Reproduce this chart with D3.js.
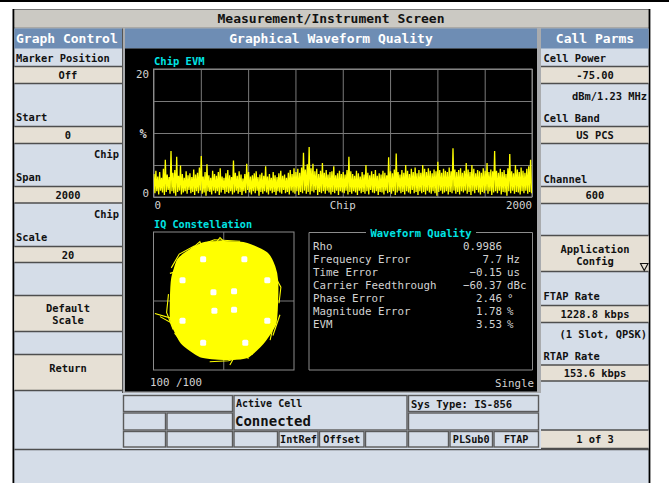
<!DOCTYPE html>
<html><head><meta charset="utf-8">
<script src="https://cdn.jsdelivr.net/npm/d3@7"></script>
<style>body{margin:0;background:#fff}svg{display:block}</style>
</head><body>
<svg id="c" width="669" height="483"></svg>
<script>
// ---------- DATA ----------
// Chip EVM (%) : per 10-chip bin, upper and lower excursion of the trace
const evmHi = [
3.6,4.1,3.2,3.9,3.0,4.4,5.8,3.5,3.1,7.2,3.8,4.2,6.3,3.3,4.9,3.6,3.0,4.0,3.4,3.7,
3.1,4.3,3.5,3.8,4.6,6.4,3.2,3.9,5.1,3.4,3.0,4.1,3.6,3.3,3.9,4.5,3.2,3.0,3.7,4.2,
3.4,3.1,5.7,3.8,3.3,4.0,3.5,2.9,3.6,5.2,3.9,3.2,3.4,3.7,4.0,3.1,3.5,3.8,3.3,4.8,
3.2,3.6,3.0,3.9,3.4,3.1,3.7,4.1,3.3,3.5,3.0,3.8,4.2,3.6,4.5,3.9,4.4,3.8,4.6,6.9,
4.3,5.1,7.8,4.5,5.2,4.0,4.4,3.6,4.1,5.3,3.8,4.2,3.5,3.9,4.0,4.8,3.4,3.7,4.1,3.6,
3.9,3.5,4.2,6.3,4.0,3.6,3.3,4.1,3.7,3.2,3.9,3.5,5.0,3.8,3.4,4.0,3.6,4.2,3.3,3.7,
3.5,4.1,3.8,3.4,6.2,4.0,3.7,4.3,6.8,3.9,3.5,4.2,3.8,5.0,4.1,3.6,4.4,3.9,4.6,3.7,
4.2,3.8,5.0,4.4,3.9,4.5,4.1,3.7,4.3,4.0,5.5,4.2,3.8,4.4,4.1,3.9,4.6,4.0,7.6,4.3,
3.9,4.2,4.5,3.8,4.1,5.3,4.3,3.9,5.0,4.4,3.7,4.2,4.0,3.8,4.5,4.1,5.3,3.9,4.3,4.0,
7.2,4.1,3.8,4.4,3.9,4.2,3.6,4.5,6.7,4.0,3.7,5.0,4.3,3.9,4.6,4.1,3.8,4.4,4.8,5.8];
const evmLo = [
0.6,0.9,0.4,1.0,0.7,0.3,0.8,1.1,0.5,0.9,0.6,0.2,0.8,1.0,0.4,0.7,0.9,0.5,1.1,0.6,
0.8,0.3,0.9,0.6,1.0,0.5,0.7,0.2,0.9,0.8,0.4,1.0,0.6,0.9,0.3,0.7,1.1,0.5,0.8,0.6,
0.9,0.4,0.7,1.0,0.5,0.8,0.3,0.9,0.6,1.1,0.7,0.4,0.9,0.6,1.0,0.2,0.8,0.5,0.9,0.7,
0.4,1.0,0.6,0.8,0.3,0.9,0.7,0.5,1.1,0.6,0.8,0.4,1.0,0.7,0.5,0.9,0.3,0.8,0.6,1.0,
0.5,0.8,0.4,0.9,0.7,1.1,0.3,0.8,0.6,0.9,0.5,1.0,0.7,0.4,0.8,0.6,1.0,0.3,0.9,0.7,
0.6,1.0,0.4,0.8,0.5,0.9,0.7,0.3,1.0,0.6,0.8,0.5,0.9,0.4,1.1,0.7,0.6,0.9,0.3,0.8,
0.7,0.4,1.0,0.6,0.8,0.5,0.9,0.3,0.7,1.0,0.6,0.8,0.4,0.9,0.7,0.5,1.1,0.6,0.8,0.3,
0.9,0.6,0.8,0.4,1.0,0.7,0.5,0.9,0.6,0.2,0.8,1.0,0.5,0.7,0.9,0.4,0.8,0.6,1.0,0.5,
0.8,0.4,0.9,0.7,1.0,0.5,0.8,0.3,0.9,0.6,1.1,0.7,0.4,0.8,0.6,1.0,0.5,0.9,0.3,0.7,
0.9,0.6,1.0,0.4,0.8,0.7,0.2,0.9,0.6,1.0,0.5,0.8,0.7,0.4,0.9,0.6,1.0,0.5,0.8,0.6];
const evmBinChips = 10;
const evmXLabels = ["0", "Chip", "2000"];
const evmYLabels = ["20", "%", "0"];

// IQ constellation: ideal symbol points (white), trajectory envelope and stray excursions
const iqSymI = [-0.22, 0.22,-0.20, 0.22,-0.44, 0.44, 0.93, 0.93, 0.46,-0.44,-0.88,-0.88];
const iqSymQ = [ 0.19, 0.21,-0.21,-0.19, 0.91, 0.91, 0.45,-0.43,-0.91,-0.91,-0.43, 0.45];
const blobI = [1.14,1.14,1.08,0.92,0.50,0.00,-0.45,-0.80,-0.98,-1.10,-1.13,-1.12,-0.90,-0.50,0.00,0.50,0.84,1.10];
const blobQ = [0.00,0.45,0.75,1.04,1.24,1.28,1.25,1.05,0.89,0.50,0.00,-0.45,-0.91,-1.20,-1.26,-1.22,-0.91,-0.50];
const iqSpikes = [
 [[-0.70,1.12],[-0.51,1.29],[-0.35,0.89]],
 [[-0.31,1.07],[-0.08,1.38],[0.24,1.05]],
 [[0.24,1.25],[0.60,1.11],[0.70,0.93]],
 [[0.56,0.89],[0.90,0.98]],
 [[0.77,0.75],[1.13,0.46],[1.02,0.24]],
 [[-1.15,0.60],[-0.90,0.67],[-1.08,0.31]],
 [[-1.00,0.46],[-0.90,0.89],[-0.68,0.75]],
 [[-1.47,-0.27],[-1.00,-0.41]],
 [[-1.36,-0.34],[-0.97,-0.56]],
 [[-0.90,-0.91],[-0.44,-0.94]],
 [[-0.58,-0.99],[-0.47,-1.21]],
 [[0.13,-1.39],[0.31,-1.07],[0.53,-1.25]],
 [[0.20,-1.21],[0.49,-0.92]],
 [[0.95,-0.48],[1.13,-0.20],[0.99,-0.85]],
 [[1.05,0.62],[1.22,0.30],[1.18,-0.05]],
 [[1.20,-0.30],[1.05,-0.75]],
 [[-1.18,0.15],[-1.22,-0.25],[-1.08,-0.62]],
 [[-0.60,1.18],[-0.20,1.33],[0.35,1.30]],
 [[-0.30,-1.32],[0.10,-1.30],[0.62,-1.15]],
 [[0.75,1.05],[1.00,0.85]],
 [[-0.85,-0.95],[-1.05,-0.70]],
 [[-1.12,0.72],[-0.95,1.02],[-0.62,1.20]]
];

// Waveform quality table
const wqLabels = ["Rho","Frequency Error","Time Error","Carrier Feedthrough","Phase Error","Magnitude Error","EVM"];
const wqValues = ["0.9986","7.7","\u22120.15","\u221260.37","2.46","1.78","3.53"];
const wqUnits  = ["","Hz","us","dBc","\u00b0","%","%"];

// ---------- DRAW ----------
const svg = d3.select("#c");
const LIGHT = "#d5dde8", BEIGE = "#e6e0d5", HEAD = "#6e8db4", TITLE = "#cbc9c3", LINE = "#4e4e4e";
const MONO = "'DejaVu Sans Mono', monospace";

function rect(x, y, w, h, fill, stroke, sw) {
  return svg.append("rect").attr("x", x).attr("y", y).attr("width", w).attr("height", h)
    .attr("fill", fill).attr("stroke", stroke || "none").attr("stroke-width", sw || 0);
}
function line(x1, y1, x2, y2, c, w) {
  return svg.append("line").attr("x1", x1).attr("y1", y1).attr("x2", x2).attr("y2", y2)
    .attr("stroke", c).attr("stroke-width", w || 1);
}
function text(t, x, y, o) {
  o = o || {};
  return svg.append("text").text(t).attr("x", x).attr("y", y)
    .attr("dominant-baseline", "central")
    .attr("text-anchor", o.anchor || "start")
    .attr("font-family", MONO)
    .attr("font-size", o.size || 10.4)
    .attr("font-weight", o.weight || "bold")
    .attr("fill", o.fill || "#111");
}

// frame
rect(0, 0, 669, 2, "#000");
rect(13, 9, 637, 474, LIGHT);
rect(14, 9, 635, 19, TITLE);
line(14, 9.5, 649, 9.5, "#777", 1);
line(14, 28, 649, 28, "#888", 1);
rect(12.5, 9, 1.8, 474, "#000");
rect(648.6, 9, 1.8, 474, "#000");
text("Measurement/Instrument Screen", 331, 18.5, {anchor: "middle", size: 13, weight: 600, fill: "#111"});

// headers
rect(14.3, 28.5, 107.7, 20, HEAD);
rect(541, 28.5, 107.6, 20, HEAD);
rect(122, 28.5, 419, 365.5, "#a9abae");
line(122.5, 28.5, 122.5, 394, "#555", 1);
rect(125, 28.5, 412, 20, HEAD);
rect(125, 48.5, 412, 343, "#000");
text("Graph Control", 16, 38.5, {size: 13, fill: "#fff"});
text("Graphical Waveform Quality", 331, 38.5, {size: 13, fill: "#fff", anchor: "middle"});
text("Call Parms", 595, 38.5, {size: 13, fill: "#fff", anchor: "middle"});

// softkey columns
function beige(x, w, y0, y1) {
  rect(x, y0, w, y1 - y0, BEIGE);
  line(x, y0, x + w, y0, LINE, 1.4);
  line(x, y1, x + w, y1, LINE, 1.4);
}
const leftBoxes = [[66.5, 83.5], [126.5, 143.5], [186.5, 203], [246.5, 262.5], [295.5, 331.5], [354.5, 390.5]];
leftBoxes.forEach(b => beige(14.3, 107.7, b[0], b[1]));
const rightBoxes = [[66.5, 83.5], [126.5, 143.5], [186.5, 203.5], [235.5, 271.5], [305.5, 322.5], [365, 381], [430, 448.5]];
rightBoxes.forEach(b => beige(541, 107.6, b[0], b[1]));
line(14.3, 449.5, 649, 449.5, LINE, 1.4);

const leftLabels = [["Marker Position", 16, 57.5, "start"], ["Off", 68, 75, "middle"], ["Start", 16, 117, "start"], ["0", 68, 135, "middle"],
  ["Chip", 119, 154, "end"], ["Span", 16, 177, "start"], ["2000", 68, 195, "middle"], ["Chip", 119, 214, "end"], ["Scale", 16, 237, "start"],
  ["20", 68, 255, "middle"], ["Default", 68, 307.5, "middle"], ["Scale", 68, 319.5, "middle"], ["Return", 68, 368, "middle"]];
leftLabels.forEach(d => text(d[0], d[1], d[2], {anchor: d[3]}));
const rightLabels = [["Cell Power", 543.5, 57.5, "start"], ["-75.00", 595, 75, "middle"], ["dBm/1.23 MHz", 647, 96, "end"],
  ["Cell Band", 543.5, 117.5, "start"], ["US PCS", 595, 135, "middle"], ["Channel", 543.5, 178.5, "start"], ["600", 595, 195, "middle"],
  ["Application", 595, 249, "middle"], ["Config", 595, 261, "middle"], ["FTAP Rate", 543.5, 296, "start"], ["1228.8 kbps", 595, 314, "middle"],
  ["(1 Slot, QPSK)", 647, 334, "end"], ["RTAP Rate", 543.5, 356, "start"], ["153.6 kbps", 595, 372.5, "middle"], ["1 of 3", 595, 439, "middle"]];
rightLabels.forEach(d => text(d[0], d[1], d[2], {anchor: d[3]}));
svg.append("path").attr("d", "M640.5,263.5 L648,263.5 L644.25,270.5 Z").attr("fill", "none").attr("stroke", "#111").attr("stroke-width", 1.1);

// status cells
function cell(x0, x1, y0, y1) {
  rect(x0, y0, x1 - x0, y1 - y0, LIGHT, "#5a5a5a", 1.4);
}
rect(122, 393, 419, 56, LIGHT);
cell(123.5, 232.5, 395.5, 411.5); cell(123.5, 165.5, 413, 430); cell(167, 232.5, 413, 430);
cell(123.5, 165.5, 431.5, 447); cell(167, 232.5, 431.5, 447);
cell(234, 407, 395.5, 430);
cell(234, 277.5, 431.5, 447); cell(279, 318, 431.5, 447); cell(319.5, 364, 431.5, 447); cell(365.5, 407, 431.5, 447);
cell(408.5, 538.5, 395.5, 411.5); cell(408.5, 538.5, 413, 430);
cell(408.5, 448.5, 431.5, 447); cell(450, 492.5, 431.5, 447); cell(494, 538.5, 431.5, 447);
text("Active Cell", 236, 403.5, {size: 10});
text("Connected", 235, 421, {size: 14, weight: 600});
text("Sys Type: IS-856", 411, 403.5, {size: 10.5});
text("IntRef", 298.5, 439.5, {anchor: "middle", size: 10.2});
text("Offset", 341.7, 439.5, {anchor: "middle", size: 10.2});
text("PLSub0", 471.2, 439.5, {anchor: "middle", size: 10.2});
text("FTAP", 516.2, 439.5, {anchor: "middle", size: 10.2});

// ---------- Chip EVM plot ----------
const GRID = "#7a7a7a", TXT = "#d2d2d2", CYAN = "#00e4e4";
const x = d3.scaleLinear().domain([0, 2000]).range([153.5, 532]);
const y = d3.scaleLinear().domain([0, 20]).range([197, 69]);
const plot = svg.append("g");
plot.append("g").attr("transform", "translate(0,197)")
  .call(d3.axisBottom(x).tickValues(d3.range(0, 2001, 250)).tickSize(-128).tickFormat(""))
  .call(g => g.select(".domain").remove())
  .call(g => g.selectAll("line").attr("stroke", GRID));
plot.append("g").attr("transform", "translate(153.5,0)")
  .call(d3.axisLeft(y).tickValues(d3.range(0, 21, 5)).tickSize(-378.5).tickFormat(""))
  .call(g => g.select(".domain").remove())
  .call(g => g.selectAll("line").attr("stroke", GRID));
plot.append("rect").attr("x", x(0)).attr("y", y(20)).attr("width", x(2000) - x(0)).attr("height", y(0) - y(20))
  .attr("fill", "none").attr("stroke", "#8c8c8c").attr("stroke-width", 1);
svg.append("clipPath").attr("id", "evmclip").append("rect")
  .attr("x", x(0)).attr("y", y(20)).attr("width", x(2000) - x(0)).attr("height", y(0) - y(20));
const evmPts = evmHi.flatMap((h, i) => [[i * evmBinChips + 2.5, h], [i * evmBinChips + 7.5, evmLo[i]]]);
plot.append("path").attr("clip-path", "url(#evmclip)")
  .attr("d", d3.line().x(d => x(d[0])).y(d => y(d[1]))(evmPts))
  .attr("fill", "none").attr("stroke", "#ffff00").attr("stroke-width", 1.3);
text("Chip EVM", 154, 61, {fill: CYAN, size: 10.5});
text(evmYLabels[0], 149, y(20) + 5, {anchor: "end", size: 10.8, weight: "normal", fill: TXT});
text(evmYLabels[1], 143, y(10) + 1, {anchor: "middle", size: 12, weight: "bold", fill: TXT});
text(evmYLabels[2], 149, y(0) - 4, {anchor: "end", size: 10.8, weight: "normal", fill: TXT});
text(evmXLabels[0], x(0) + 1, 205.5, {size: 10.8, weight: "normal", fill: TXT});
text(evmXLabels[1], x(1000), 205.5, {anchor: "middle", size: 10.8, weight: "normal", fill: TXT});
text(evmXLabels[2], x(2000), 205.5, {anchor: "end", size: 10.8, weight: "normal", fill: TXT});

// ---------- IQ constellation ----------
const xi = d3.scaleLinear().domain([-1.5, 1.5]).range([153.5, 294]);
const yq = d3.scaleLinear().domain([-1.5, 1.5]).range([370, 232]);
const iqLine = d3.line().x(d => xi(d[0])).y(d => yq(d[1]));
text("IQ Constellation", 154, 224, {fill: CYAN, size: 10.2});
svg.append("rect").attr("x", xi(-1.5)).attr("y", yq(1.5)).attr("width", xi(1.5) - xi(-1.5)).attr("height", yq(-1.5) - yq(1.5))
  .attr("fill", "none").attr("stroke", "#8c8c8c");
line(xi(0), yq(1.5), xi(0), yq(-1.5), GRID, 1);
line(xi(-1.5), yq(0), xi(1.5), yq(0), GRID, 1);
const blobPts = blobI.map((v, i) => [v, blobQ[i]]);
svg.append("path").attr("d", d3.line().x(d => xi(d[0])).y(d => yq(d[1])).curve(d3.curveCardinalClosed.tension(0.4))(blobPts))
  .attr("fill", "#ffff00").attr("stroke", "#ffff00").attr("stroke-width", 2).attr("stroke-linejoin", "round");
iqSpikes.forEach(s => svg.append("path").attr("d", iqLine(s))
  .attr("fill", "none").attr("stroke", "#ffff00").attr("stroke-width", 1.1));
iqSymI.forEach((d, i) => svg.append("rect")
  .attr("x", xi(d) - 3).attr("y", yq(iqSymQ[i]) - 3).attr("width", 6).attr("height", 6)
  .attr("rx", 1.5).attr("fill", "#fff"));
text("100 /100", 150, 382.7, {size: 10.8, weight: "normal", fill: TXT});
text("Single", 534, 383, {anchor: "end", size: 10.8, weight: "normal", fill: TXT});

// ---------- Waveform Quality box ----------
line(309, 232.5, 366, 232.5, "#8c8c8c", 1);
line(476, 232.5, 532.5, 232.5, "#8c8c8c", 1);
line(309, 232.5, 309, 370, "#8c8c8c", 1);
line(532.5, 232.5, 532.5, 370, "#8c8c8c", 1);
line(309, 370, 532.5, 370, "#8c8c8c", 1);
text("Waveform Quality", 421, 233, {anchor: "middle", fill: CYAN, size: 10.5});
const rowY = d3.scaleLinear().domain([0, 6]).range([246.7, 324]);
wqLabels.forEach((l, i) => {
  text(l, 313, rowY(i), {size: 10.8, weight: "normal", fill: TXT});
  text(wqValues[i], 502, rowY(i), {anchor: "end", size: 10.8, weight: "normal", fill: TXT});
  if (wqUnits[i]) text(wqUnits[i], 507, rowY(i), {size: 10.8, weight: "normal", fill: TXT});
});
</script>
</body></html>
